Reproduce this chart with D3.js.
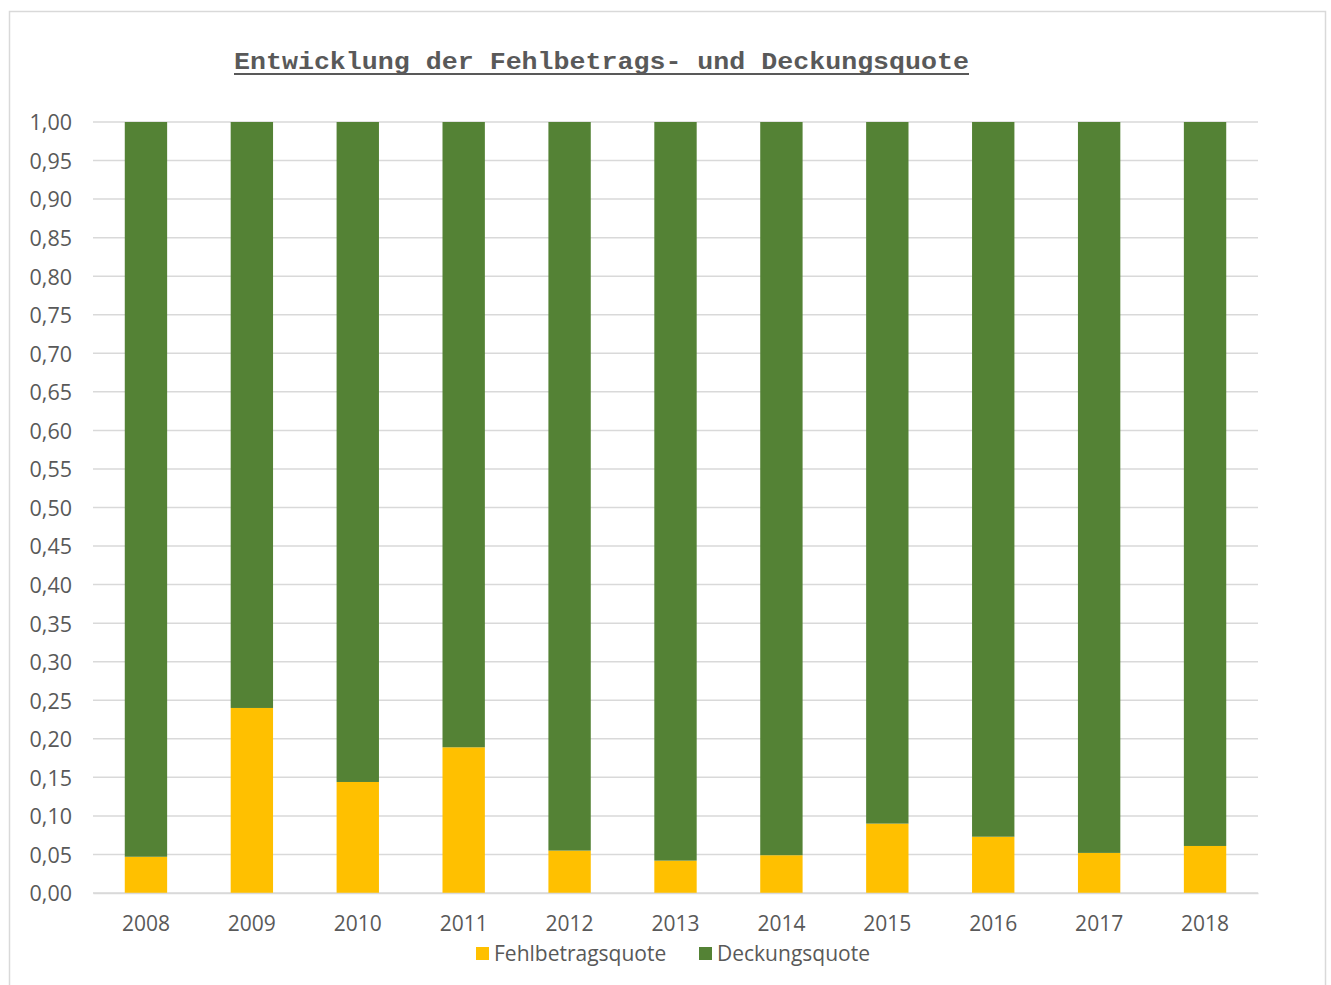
<!DOCTYPE html>
<html>
<head>
<meta charset="utf-8">
<script src="https://cdn.jsdelivr.net/npm/d3@7"></script>
<style>
  body { margin: 0; background: #fff; }
  text { font-family: "Open Sans", "Noto Sans", sans-serif; }
</style>
</head>
<body>
<div id="chart"></div>
<script>
const years = ["2008", "2009", "2010", "2011", "2012", "2013", "2014", "2015", "2016", "2017", "2018"];
const fehlbetragsquote = [0.047, 0.240, 0.144, 0.189, 0.055, 0.042, 0.049, 0.090, 0.073, 0.052, 0.061];
const deckungsquote = fehlbetragsquote.map(v => 1 - v);
const yTicks = d3.range(0, 21).map(i => i * 0.05);
const seriesNames = ["Fehlbetragsquote", "Deckungsquote"];
const colors = ["#FFC000", "#548235"];

const W = 1331, H = 985;
const x0 = 93, x1 = 1258, yTop = 122, yBottom = 893;

const svg = d3.select("#chart").append("svg")
  .attr("width", W).attr("height", H);

// outer chart frame
svg.append("rect")
  .attr("x", 9.5).attr("y", 11.5)
  .attr("width", 1316).attr("height", 990)
  .attr("fill", "#fff").attr("stroke", "#d9d9d9").attr("stroke-width", 1.5);

const x = d3.scaleBand().domain(years).range([x0, x1]).paddingInner(0.6).paddingOuter(0.3);
const y = d3.scaleLinear().domain([0, 1]).range([yBottom, yTop]);

// title
svg.append("text")
  .attr("x", 234).attr("y", 69)
  .attr("textLength", 735).attr("lengthAdjust", "spacingAndGlyphs")
  .style("font-family", "'Liberation Mono', 'DejaVu Sans Mono', monospace")
  .style("font-weight", "bold")
  .style("font-size", "24px")
  .attr("fill", "#595959")
  .text("Entwicklung der Fehlbetrags- und Deckungsquote");
svg.append("line")
  .attr("x1", 234).attr("x2", 969)
  .attr("y1", 74).attr("y2", 74)
  .attr("stroke", "#595959").attr("stroke-width", 2);

// gridlines
svg.append("g").selectAll("line")
  .data(yTicks)
  .enter().append("line")
  .attr("x1", x0).attr("x2", x1)
  .attr("y1", d => y(d)).attr("y2", d => y(d))
  .attr("stroke", "#d9d9d9").attr("stroke-width", 1.5);

// y axis labels
const yAxis = svg.append("g")
  .attr("transform", `translate(${x0},1)`)
  .call(d3.axisLeft(y).tickValues(yTicks).tickSize(0).tickPadding(21)
    .tickFormat(d => d3.format(".2f")(d).replace(".", ",")));
yAxis.select(".domain").remove();
yAxis.selectAll("text")
  .style("font-family", "'Open Sans', sans-serif")
  .style("font-size", "21.5px")
  .attr("fill", "#595959");

// stacked bars
const rows = years.map((yr, i) => ({ year: yr, Fehlbetragsquote: fehlbetragsquote[i], Deckungsquote: deckungsquote[i] }));
const stacked = d3.stack().keys(seriesNames)(rows);

svg.append("g").selectAll("g")
  .data(stacked)
  .enter().append("g")
  .attr("fill", (d, i) => colors[i])
  .selectAll("rect")
  .data(d => d)
  .enter().append("rect")
  .attr("x", d => x(d.data.year))
  .attr("width", x.bandwidth())
  .attr("y", d => y(d[1]))
  .attr("height", d => y(d[0]) - y(d[1]));

// x axis
const xAxis = svg.append("g")
  .attr("transform", `translate(0,${yBottom})`)
  .call(d3.axisBottom(x).tickSize(0).tickPadding(23));
xAxis.select(".domain").attr("stroke", "#d9d9d9").attr("stroke-width", 1.5);
xAxis.selectAll("text")
  .style("font-family", "'Open Sans', sans-serif")
  .style("font-size", "21px")
  .attr("fill", "#595959");

// legend
const legendX = [476, 699];
const legend = svg.append("g").selectAll("g")
  .data(seriesNames)
  .enter().append("g")
  .attr("transform", (d, i) => `translate(${legendX[i]},947)`);
legend.append("rect")
  .attr("width", 13).attr("height", 13)
  .attr("fill", (d, i) => colors[i]);
legend.append("text")
  .attr("x", 18).attr("y", 14)
  .style("font-size", "21px")
  .attr("fill", "#595959")
  .text(d => d);
</script>
</body>
</html>
